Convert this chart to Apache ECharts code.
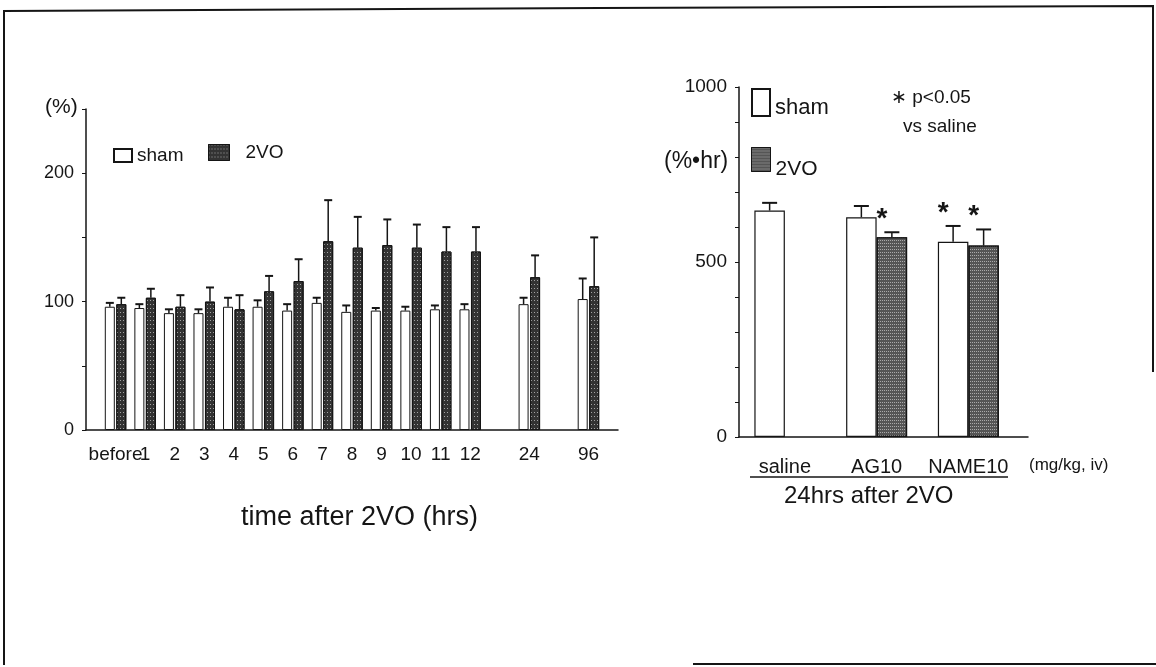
<!DOCTYPE html>
<html><head><meta charset="utf-8">
<script src="https://cdn.jsdelivr.net/npm/echarts@6/dist/echarts.min.js"></script>
<style>html,body{margin:0;padding:0;background:#fff}#c{width:1156px;height:667px}</style>
</head><body><div id="c"></div>
<script>
// ---- left panel: time course (%), categories with gaps ----
const timeLabels = ['', 'before', '1', '2', '3', '4', '5', '6', '7', '8', '9', '10', '11', '12', '', '24', '', '96', ''];
const shamTime    = [null, 96, 95, 91, 91, 96, 96, 93, 99, 92, 93, 93, 94, 94, null, 98, null, 102, null];
const shamTimeErr = [null, 3, 3, 3, 3, 7, 5, 5, 4, 5, 2, 3, 3, 4, null, 5, null, 16, null];
const voTime      = [null, 98, 103, 96, 100, 94, 108, 116, 147, 142, 144, 142, 139, 139, null, 119, null, 112, null];
const voTimeErr   = [null, 5, 7, 9, 11, 11, 12, 17, 32, 24, 20, 18, 19, 19, null, 17, null, 38, null];
const leftYMax = 250, leftYStep = 50, leftYLabelStep = 100;

// ---- right panel: AUC (%·hr), 24 hrs after 2VO ----
const drugLabels = ['saline', 'AG10', 'NAME10'];
const shamAUC    = [647, 628, 558];
const shamAUCErr = [22, 32, 45];
const voAUC      = [null, 571, 547];
const voAUCErr   = [null, 14, 46];
const shamSig    = [0, 0, 1];
const voSig      = [0, 1, 1];
const rightYMax = 1000, rightYStep = 100, rightYLabelStep = 500;

const FONT = '"Liberation Sans", Arial, sans-serif';
const INK = '#151515';

const decalLeft = {symbol: 'rect', symbolSize: 1, dashArrayX: [1, 2], dashArrayY: [1, 3], color: 'rgba(255,255,255,0.55)', rotation: 0};
const decalRight = {symbol: 'rect', symbolSize: 1, dashArrayX: [1, 1], dashArrayY: [1, 2], color: 'rgba(255,255,255,0.5)', rotation: 0};

function toTriples(vals, errs, sig) {
  const out = [];
  vals.forEach((v, i) => { if (v != null) out.push([i, v, errs[i], sig ? sig[i] : 0]); });
  return out;
}
function toPairs(vals) {
  const out = [];
  vals.forEach((v, i) => { if (v != null) out.push([i, v]); });
  return out;
}
function errRender(offset, cap) {
  return function (params, api) {
    const x = api.value(0), v = api.value(1), e = api.value(2), s = api.value(3);
    const p0 = api.coord([x, v]);
    const p1 = api.coord([x, v + e]);
    const cx = p0[0] + offset;
    const children = [
      {type: 'line', shape: {x1: cx, y1: p0[1], x2: cx, y2: p1[1]}, style: {stroke: INK, lineWidth: 1.5}},
      {type: 'line', shape: {x1: cx - cap / 2, y1: p1[1], x2: cx + cap / 2, y2: p1[1]}, style: {stroke: INK, lineWidth: 2}}
    ];
    if (s) {
      children.push({type: 'text', x: cx - 10, y: p1[1] - 13,
        style: {text: '*', fontSize: 28, fontFamily: FONT, fontWeight: 'bold', fill: INK, align: 'center', verticalAlign: 'middle'}});
    }
    return {type: 'group', children};
  };
}

const chart = echarts.init(document.getElementById('c'), null, {renderer: 'canvas'});
const axisLineStyle = {onZero: false, lineStyle: {color: INK, width: 1.5}};

const option = {
  backgroundColor: '#fff',
  animation: false,
  textStyle: {fontFamily: FONT, color: INK},
  grid: [
    {left: 86, right: 538, top: 109, bottom: 237, outerBoundsMode: 'none', containLabel: false},
    {left: 739, right: 128, top: 87, bottom: 230, outerBoundsMode: 'none', containLabel: false}
  ],
  legend: [
    {data: ['sham'], left: 113, top: 146, padding: 0, icon: 'rect', itemWidth: 18, itemHeight: 13, itemGap: 0,
     selectedMode: false, textStyle: {fontSize: 19, color: INK, fontFamily: FONT}},
    {data: [{name: '2VO', itemStyle: {color: '#333', decal: decalLeft, borderColor: INK, borderWidth: 1}}],
     left: 208, top: 143, padding: 0, icon: 'rect', itemWidth: 21, itemHeight: 16, itemGap: 0,
     selectedMode: false, textStyle: {fontSize: 19, color: INK, fontFamily: FONT, padding: [0, 0, 0, 11]}},
    {data: ['sham'], left: 751, top: 88, padding: 0, icon: 'rect', itemWidth: 18, itemHeight: 27, itemGap: 0,
     selectedMode: false, formatter: '{t|{name}}',
     textStyle: {color: INK, fontFamily: FONT, rich: {t: {fontSize: 22, fontFamily: FONT, color: INK, padding: [10, 0, 0, 0]}}}},
    {data: [{name: '2VO', itemStyle: {color: '#555', decal: decalRight, borderColor: INK, borderWidth: 1}}],
     left: 751, top: 147, padding: 0, icon: 'rect', itemWidth: 19, itemHeight: 24, itemGap: 0,
     selectedMode: false, formatter: '{t|{name}}',
     textStyle: {color: INK, fontFamily: FONT, rich: {t: {fontSize: 21, fontFamily: FONT, color: INK, padding: [20, 0, 0, 0]}}}}
  ],
  xAxis: [
    {type: 'category', gridIndex: 0, data: timeLabels, boundaryGap: false,
     axisLine: axisLineStyle, axisTick: {show: false},
     axisLabel: {interval: 0, fontSize: 19, color: INK, margin: 15, fontFamily: FONT},
     splitLine: {show: false}},
    {type: 'value', gridIndex: 1, min: -0.5, max: 2.65, interval: 0.5,
     axisLine: axisLineStyle, axisTick: {show: false}, splitLine: {show: false},
     axisLabel: {fontSize: 20, color: INK, margin: 20, fontFamily: FONT, showMaxLabel: false, showMinLabel: false,
       formatter: v => (Number.isInteger(v) && drugLabels[v] !== undefined) ? drugLabels[v] : ''}}
  ],
  yAxis: [
    {type: 'value', gridIndex: 0, min: 0, max: leftYMax, interval: leftYStep,
     axisLine: {show: true, onZero: false, lineStyle: {color: INK, width: 1.5}},
     axisTick: {show: true, length: 4, lineStyle: {color: INK}},
     splitLine: {show: false},
     axisLabel: {fontSize: 18, color: INK, margin: 12, fontFamily: FONT,
       formatter: v => (v % leftYLabelStep === 0 && v < leftYMax) ? String(v) : ''}},
    {type: 'value', gridIndex: 1, min: 0, max: rightYMax, interval: rightYStep,
     axisLine: {show: true, onZero: false, lineStyle: {color: INK, width: 1.5}},
     axisTick: {show: true, length: 4, lineStyle: {color: INK}},
     splitLine: {show: false},
     axisLabel: {fontSize: 19, color: INK, margin: 12, fontFamily: FONT,
       formatter: v => (v % rightYLabelStep === 0) ? String(v) : ''}}
  ],
  series: [
    {name: 'sham', type: 'bar', xAxisIndex: 0, yAxisIndex: 0, data: shamTime, barWidth: 10, barGap: '15%',
     itemStyle: {color: '#fff', borderColor: INK, borderWidth: 1}},
    {name: '2VO', type: 'bar', xAxisIndex: 0, yAxisIndex: 0, data: voTime, barWidth: 10, barGap: '15%',
     itemStyle: {color: '#333', borderColor: INK, borderWidth: 1, decal: decalLeft}},
    {name: 'sham', type: 'custom', xAxisIndex: 0, yAxisIndex: 0, renderItem: errRender(-5.75, 8),
     data: toTriples(shamTime, shamTimeErr), encode: {x: 0, y: 1}, z: 5},
    {name: '2VO', type: 'custom', xAxisIndex: 0, yAxisIndex: 0, renderItem: errRender(5.75, 8),
     data: toTriples(voTime, voTimeErr), encode: {x: 0, y: 1}, z: 5},

    {name: 'sham', type: 'bar', xAxisIndex: 1, yAxisIndex: 1, data: toPairs(shamAUC), barWidth: 30.5, barGap: '0%',
     itemStyle: {color: '#fff', borderColor: INK, borderWidth: 1.2}},
    {name: '2VO', type: 'bar', xAxisIndex: 1, yAxisIndex: 1, data: toPairs(voAUC), barWidth: 30.5, barGap: '0%',
     itemStyle: {color: '#555', borderColor: INK, borderWidth: 1.2, decal: decalRight}},
    {name: 'sham', type: 'custom', xAxisIndex: 1, yAxisIndex: 1, renderItem: errRender(-15.25, 15),
     data: toTriples(shamAUC, shamAUCErr, shamSig), encode: {x: 0, y: 1}, z: 5},
    {name: '2VO', type: 'custom', xAxisIndex: 1, yAxisIndex: 1, renderItem: errRender(15.25, 15),
     data: toTriples(voAUC, voAUCErr, voSig), encode: {x: 0, y: 1}, z: 5}
  ],
  graphic: [
    // scanned page frame
    {type: 'polyline', shape: {points: [[4, 665], [4, 11], [600, 8], [1153, 6], [1153, 372]]},
     style: {stroke: INK, lineWidth: 2, fill: null}, silent: true},
    {type: 'line', shape: {x1: 693, y1: 664, x2: 1156, y2: 664}, style: {stroke: INK, lineWidth: 2}, silent: true},
    // left panel texts
    {type: 'text', left: 45, top: 97, style: {text: '(%)', fontSize: 21, fontFamily: FONT, fill: INK}},
    {type: 'text', left: 241, top: 504, style: {text: 'time after 2VO (hrs)', fontSize: 27, fontFamily: FONT, fill: INK}},
    // right panel texts
    {type: 'text', left: 664, top: 150, style: {text: '(%\u2022hr)', fontSize: 23, fontFamily: FONT, fill: INK}},
    {type: 'text', left: 891, top: 88, style: {text: '\u2217 p<0.05', fontSize: 19, fontFamily: FONT, fill: INK}},
    {type: 'text', left: 903, top: 117, style: {text: 'vs saline', fontSize: 19, fontFamily: FONT, fill: INK}},
    {type: 'text', left: 1029, top: 457, style: {text: '(mg/kg, iv)', fontSize: 17, fontFamily: FONT, fill: INK}},
    {type: 'line', shape: {x1: 750, y1: 477, x2: 1008, y2: 477}, style: {stroke: INK, lineWidth: 1.5}, silent: true},
    {type: 'text', left: 784, top: 484, style: {text: '24hrs after 2VO', fontSize: 24, fontFamily: FONT, fill: INK}}
  ]
};
chart.setOption(option);
</script>
</body></html>
